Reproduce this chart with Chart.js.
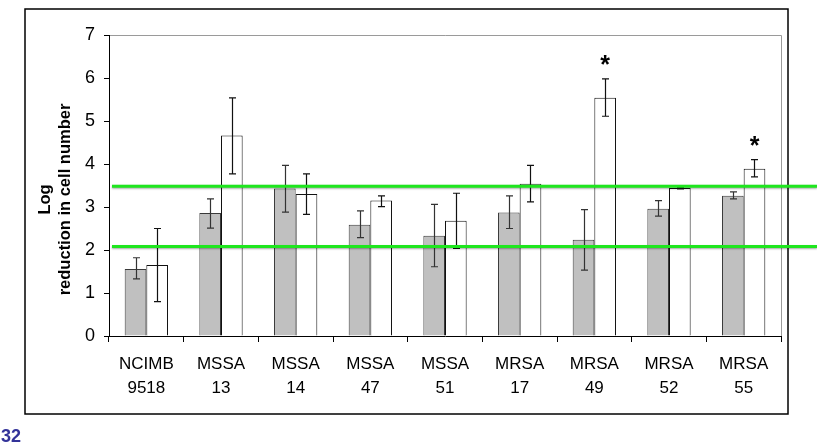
<!DOCTYPE html>
<html>
<head>
<meta charset="utf-8">
<script src="https://cdn.jsdelivr.net/npm/chart.js@4"></script>
<style>
  html, body { margin: 0; padding: 0; background: #fff; }
  #wrap { width: 817px; height: 448px; }
</style>
</head>
<body>
<div id="wrap"><canvas id="chart" width="817" height="448"></canvas></div>
<script>
const labels = [['NCIMB', '9518'], ['MSSA', '13'], ['MSSA', '14'], ['MSSA', '47'], ['MSSA', '51'],
                ['MRSA', '17'], ['MRSA', '49'], ['MRSA', '52'], ['MRSA', '55']];
const greyValues = [1.56, 2.86, 3.43, 2.59, 2.33, 2.87, 2.24, 2.96, 3.26];
const greyLow    = [1.33, 2.51, 2.88, 2.29, 1.61, 2.50, 1.53, 2.79, 3.19];
const greyHigh   = [1.82, 3.19, 3.97, 2.91, 3.06, 3.26, 2.94, 3.15, 3.35];
const whiteValues = [1.65, 4.66, 3.30, 3.15, 2.68, 3.54, 5.54, 3.44, 3.89];
const whiteLow    = [0.80, 3.77, 2.83, 3.01, 2.04, 3.12, 5.11, 3.42, 3.70];
const whiteHigh   = [2.50, 5.54, 3.77, 3.26, 3.32, 3.97, 5.98, 3.45, 4.10];
const whiteStars  = ['', '', '', '', '', '', '*', '', '*'];
const thresholds  = [3.48, 2.08];
const yTicks = [0, 1, 2, 3, 4, 5, 6, 7];
const axisTitle = ['Log', 'reduction in cell number'];
const pageNumber = '32';

Chart.defaults.font.family = '"Liberation Sans", Arial, sans-serif';
Chart.defaults.color = '#000';

// error bars, asterisks, threshold lines, frame
const extras = {
  id: 'extras',
  beforeDraw(chart) {
    const ctx = chart.ctx;
    const a = chart.chartArea;
    ctx.save();
    ctx.fillStyle = '#fff';
    ctx.fillRect(0, 0, chart.width, chart.height);
    ctx.strokeStyle = '#000';
    ctx.lineWidth = 1.5;
    ctx.strokeRect(25, 9, 763, 405);
    // top and right plot edges
    ctx.strokeStyle = '#9a9a9a';
    ctx.lineWidth = 1;
    ctx.beginPath();
    ctx.moveTo(a.left, a.top + 0.5);
    ctx.lineTo(a.right + 0.5, a.top + 0.5);
    ctx.lineTo(a.right + 0.5, a.bottom);
    ctx.stroke();
    // axis title
    ctx.fillStyle = '#000';
    ctx.font = 'bold 16.5px "Liberation Sans", Arial, sans-serif';
    ctx.textAlign = 'center';
    ctx.textBaseline = 'middle';
    const cy = (a.top + a.bottom) / 2 + 14;
    axisTitle.forEach((t, i) => {
      ctx.save();
      ctx.translate(45 + i * 20, cy);
      ctx.rotate(-Math.PI / 2);
      ctx.fillText(t, 0, 0);
      ctx.restore();
    });
    // page number
    ctx.fillStyle = '#333399';
    ctx.font = 'bold 18px "Liberation Sans", Arial, sans-serif';
    ctx.textAlign = 'left';
    ctx.textBaseline = 'alphabetic';
    ctx.fillText(pageNumber, 1, 442);
    ctx.restore();
  },
  afterDatasetsDraw(chart) {
    const ctx = chart.ctx;
    const y = chart.scales.y;
    const a = chart.chartArea;
    const sets = [[greyLow, greyHigh, '#333'], [whiteLow, whiteHigh, '#111']];
    ctx.save();
    sets.forEach(([lo, hi, col], d) => {
      const meta = chart.getDatasetMeta(d);
      ctx.strokeStyle = col;
      ctx.lineWidth = 1.2;
      meta.data.forEach((bar, i) => {
        const x = Math.round(bar.x) + 0.5;
        const y1 = y.getPixelForValue(lo[i]);
        const y2 = y.getPixelForValue(hi[i]);
        ctx.beginPath();
        ctx.moveTo(x, y1); ctx.lineTo(x, y2);
        ctx.moveTo(x - 3.5, y1); ctx.lineTo(x + 3.5, y1);
        ctx.moveTo(x - 3.5, y2); ctx.lineTo(x + 3.5, y2);
        ctx.stroke();
      });
    });
    // asterisks
    const wMeta = chart.getDatasetMeta(1);
    ctx.fillStyle = '#000';
    ctx.font = 'bold 25px "Liberation Sans", Arial, sans-serif';
    ctx.textAlign = 'center';
    ctx.textBaseline = 'middle';
    whiteStars.forEach((s, i) => {
      if (!s) return;
      ctx.fillText(s, wMeta.data[i].x, y.getPixelForValue(whiteHigh[i]) - 13);
    });
    // threshold lines
    thresholds.forEach(v => {
      const py = y.getPixelForValue(v);
      ctx.save();
      ctx.shadowColor = 'rgba(0,0,0,0.35)';
      ctx.shadowBlur = 2;
      ctx.shadowOffsetY = 1;
      ctx.strokeStyle = '#1ee61e';
      ctx.lineWidth = 3;
      ctx.beginPath();
      ctx.moveTo(a.left + 3, py);
      ctx.lineTo(chart.width, py);
      ctx.stroke();
      ctx.restore();
    });
    ctx.restore();
  }
};

new Chart(document.getElementById('chart'), {
  type: 'bar',
  data: {
    labels: labels,
    datasets: [
      {
        data: greyValues,
        backgroundColor: '#c0c0c0',
        borderColor: '#3a3a3a',
        borderWidth: 1,
        borderSkipped: 'bottom'
      },
      {
        data: whiteValues,
        backgroundColor: '#ffffff',
        borderColor: '#111',
        borderWidth: 1,
        borderSkipped: 'bottom'
      }
    ]
  },
  options: {
    responsive: false,
    animation: false,
    layout: { padding: { left: 0, top: 35, right: 36, bottom: 0 } },
    datasets: { bar: { categoryPercentage: 0.58, barPercentage: 1 } },
    plugins: { legend: { display: false }, tooltip: { enabled: false } },
    scales: {
      x: {
        afterFit: s => { s.height = 448 - 35 - 301; },
        grid: { offset: true, drawOnChartArea: false, drawTicks: true, tickLength: 6, color: '#000' },
        border: { color: '#000', width: 1 },
        ticks: { font: { size: 17, lineHeight: 1.42 }, padding: 10, maxRotation: 0, autoSkip: false }
      },
      y: {
        min: 0,
        max: 7,
        afterFit: s => { s.width = 109; },
        afterBuildTicks: s => { s.ticks = yTicks.map(v => ({ value: v })); },
        grid: { drawOnChartArea: false, drawTicks: true, tickLength: 5, color: '#000' },
        border: { color: '#000', width: 1 },
        ticks: { font: { size: 18 }, padding: 9 }
      }
    }
  },
  plugins: [extras]
});
</script>
</body>
</html>
